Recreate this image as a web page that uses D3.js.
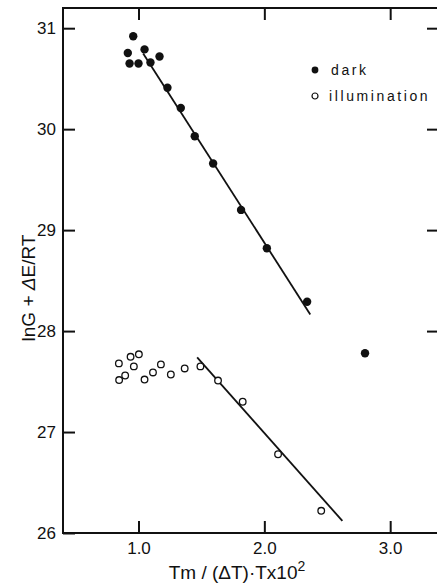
<!DOCTYPE html>
<html>
<head>
<meta charset="utf-8">
<script src="https://cdn.jsdelivr.net/npm/d3@7"></script>
<style>
  body { margin: 0; background: #fff; }
  svg { display: block; font-family: "Liberation Sans", Arial, sans-serif; }
</style>
</head>
<body>
<svg id="chart" width="437" height="585"></svg>
<script>
// values
const darkX = [0.915, 0.958, 0.929, 1.0, 1.048, 1.095, 1.167, 1.23, 1.336, 1.447, 1.593, 1.815, 2.02, 2.34, 2.80];
const darkY = [30.755, 30.92, 30.65, 30.65, 30.79, 30.66, 30.72, 30.41, 30.21, 29.93, 29.66, 29.20, 28.82, 28.29, 27.78];
const illumX = [0.844, 0.937, 1.003, 0.963, 0.846, 0.894, 1.048, 1.115, 1.178, 1.257, 1.367, 1.492, 1.632, 1.828, 2.109, 2.452];
const illumY = [27.68, 27.745, 27.77, 27.65, 27.515, 27.56, 27.52, 27.59, 27.67, 27.57, 27.63, 27.65, 27.51, 27.30, 26.78, 26.22];
// fitted lines (end points)
const darkFitX = [1.037, 2.365];
const darkFitY = [30.75, 28.165];
const illumFitX = [1.466, 2.62];
const illumFitY = [27.74, 26.12];
const xTicks = [1, 2, 3];
const yTicks = [26, 27, 28, 29, 30, 31];
const legendLabels = ["dark", "illumination"];

const svg = d3.select("#chart");
const ink = "#111";

const x = d3.scaleLinear().domain([0.4, 3.38]).range([63, 438]);
const y = d3.scaleLinear().domain([26, 31.2]).range([533, 8]);

// frame (right side runs off the picture)
svg.append("rect")
    .attr("x", x.range()[0])
    .attr("y", y.range()[1])
    .attr("width", x.range()[1] - x.range()[0] + 4)
    .attr("height", y.range()[0] - y.range()[1])
    .attr("fill", "none")
    .attr("stroke", ink)
    .attr("stroke-width", 2);

// axes, ticks pointing inward
const axBottom = svg.append("g")
    .attr("transform", `translate(0,${y.range()[0]})`)
    .call(d3.axisBottom(x).tickValues(xTicks).tickFormat(d3.format(".1f"))
        .tickSize(-12).tickSizeOuter(0).tickPadding(9));
const axLeft = svg.append("g")
    .attr("transform", `translate(${x.range()[0]},0)`)
    .call(d3.axisLeft(y).tickValues(yTicks).tickFormat(d3.format("d"))
        .tickSize(-12).tickSizeOuter(0).tickPadding(7));
const axTop = svg.append("g")
    .attr("transform", `translate(0,${y.range()[1]})`)
    .call(d3.axisTop(x).tickValues(xTicks).tickFormat("")
        .tickSize(-12).tickSizeOuter(0));
const axRight = svg.append("g")
    .attr("transform", `translate(${x.range()[1] - 1},0)`)
    .call(d3.axisRight(y).tickValues(yTicks.slice(2)).tickFormat("")
        .tickSize(-10).tickSizeOuter(0));

[axBottom, axLeft, axTop, axRight].forEach(g => {
    g.select(".domain").remove();
    g.selectAll("line").attr("stroke", ink).attr("stroke-width", 2);
    g.selectAll("text")
        .attr("fill", ink)
        .style("font-size", "17px");
});

// fitted lines
const line = d3.line().x(d => x(d[0])).y(d => y(d[1]));
[[darkFitX, darkFitY], [illumFitX, illumFitY]].forEach(([fx, fy]) => {
    svg.append("path")
        .datum(d3.zip(fx, fy))
        .attr("d", line)
        .attr("fill", "none")
        .attr("stroke", ink)
        .attr("stroke-width", 1.8);
});

// dark points
svg.append("g")
    .selectAll("circle")
    .data(d3.zip(darkX, darkY))
    .enter()
    .append("circle")
    .attr("cx", d => x(d[0]))
    .attr("cy", d => y(d[1]))
    .attr("r", 4.2)
    .attr("fill", ink);

// illumination points
svg.append("g")
    .selectAll("circle")
    .data(d3.zip(illumX, illumY))
    .enter()
    .append("circle")
    .attr("cx", d => x(d[0]))
    .attr("cy", d => y(d[1]))
    .attr("r", 3.3)
    .attr("fill", "#fff")
    .attr("stroke", ink)
    .attr("stroke-width", 1.3);

// legend
const legend = svg.append("g").attr("transform", "translate(315,70)");
legendLabels.forEach((label, i) => {
    const row = legend.append("g").attr("transform", `translate(0,${i * 26})`);
    row.append("circle")
        .attr("r", i === 0 ? 3.4 : 3)
        .attr("fill", i === 0 ? ink : "#fff")
        .attr("stroke", ink)
        .attr("stroke-width", i === 0 ? 0 : 1.2);
    row.append("text")
        .attr("x", i === 0 ? 16 : 14)
        .attr("y", 5)
        .attr("fill", ink)
        .style("font-size", "14px")
        .style("letter-spacing", "2.6px")
        .text(label);
});

// axis titles
const xTitle = svg.append("text")
    .attr("x", 237)
    .attr("y", 579)
    .attr("text-anchor", "middle")
    .attr("fill", ink)
    .style("font-size", "19px");
xTitle.append("tspan").text("Tm / (\u0394T)\u00b7Tx10");
xTitle.append("tspan").attr("dy", -8).style("font-size", "14px").text("2");

const yTitle = svg.append("text")
    .attr("transform", "translate(35,288) rotate(-90)")
    .attr("text-anchor", "middle")
    .attr("fill", ink)
    .style("font-size", "19px");
yTitle.append("tspan").text("lnG + ");
yTitle.append("tspan").style("font-style", "italic").text("\u0394");
yTitle.append("tspan").text("E/RT");
</script>
</body>
</html>
